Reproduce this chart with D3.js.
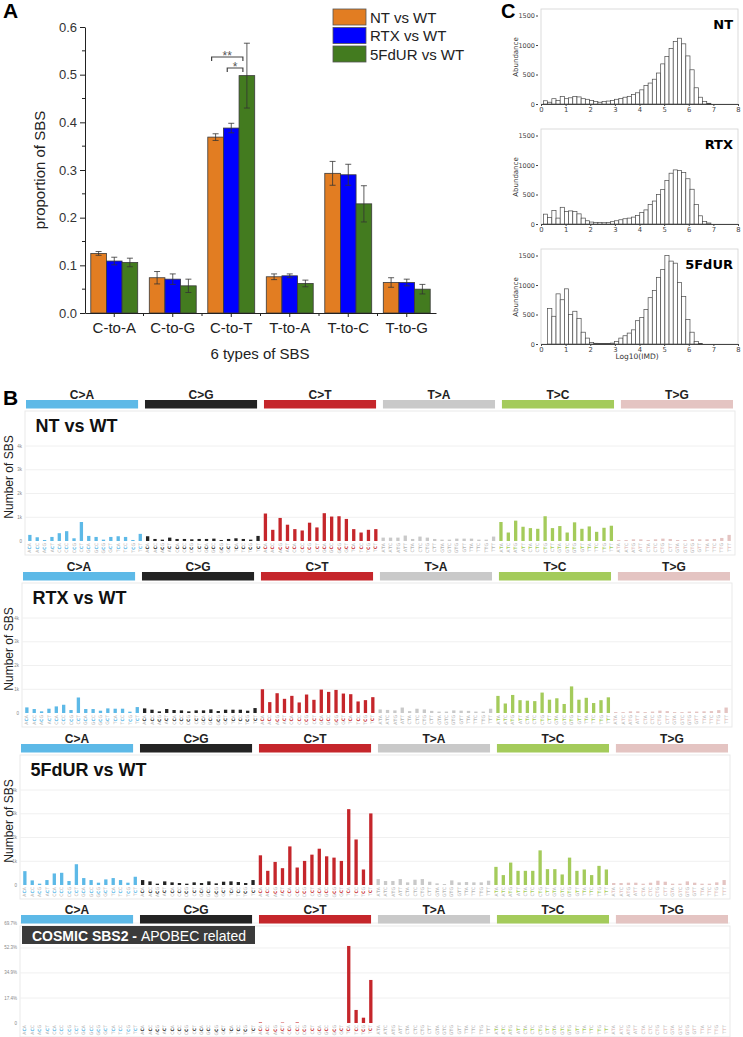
<!DOCTYPE html>
<html>
<head>
<meta charset="utf-8">
<script src="https://cdn.jsdelivr.net/npm/d3@7"></script>
<style>
  body { margin: 0; background: #fff; }
  svg { display: block; font-family: "Liberation Sans", Arial, sans-serif; }
</style>
</head>
<body>
<svg id="main-svg" width="743" height="1037"></svg>
<script>
// ---- panel A data
const sbsTypes = ["C-to-A", "C-to-G", "C-to-T", "T-to-A", "T-to-C", "T-to-G"];
const seriesNames = ["NT vs WT", "RTX vs WT", "5FdUR vs WT"];
const seriesColors = ["#E27D22", "#0000FF", "#437B1F"];
const ntProportion = [0.125, 0.074, 0.369, 0.076, 0.293, 0.064];
const ntError = [0.004, 0.013, 0.007, 0.006, 0.025, 0.010];
const rtxProportion = [0.109, 0.071, 0.388, 0.078, 0.290, 0.064];
const rtxError = [0.008, 0.011, 0.010, 0.004, 0.022, 0.007];
const fdurProportion = [0.106, 0.057, 0.498, 0.062, 0.229, 0.050];
const fdurError = [0.009, 0.014, 0.068, 0.007, 0.038, 0.010];
const proportionTicks = [0, 0.1, 0.2, 0.3, 0.4, 0.5, 0.6];

// ---- panel C data (abundance per log10(IMD) bin)
const imdTicks = [0, 1, 2, 3, 4, 5, 6, 7, 8];
const abundanceTicks = [0, 500, 1000, 1500];
const imdEdges = d3.range(41).map(i => 0.1 + i * 0.17);
const ntImd = [55, 30, 90, 60, 125, 90, 105, 125, 120, 90, 80, 60, 40, 30, 40, 50, 60, 80, 95, 115,
  130, 160, 190, 240, 315, 355, 420, 525, 680, 805, 940, 1060, 1115, 1020, 815, 580, 275, 115, 45, 12];
const rtxImd = [167, 110, 228, 100, 283, 210, 222, 210, 172, 100, 55, 33, 28, 28, 22, 28, 39, 55, 72, 89,
  100, 117, 144, 194, 239, 333, 389, 500, 583, 739, 861, 917, 906, 872, 767, 589, 333, 139, 44, 17];
const fdurImd = [0, 600, 470, 850, 750, 935, 500, 555, 435, 200, 100, 28, 12, 8, 8, 10, 15, 40, 100, 140,
  185, 240, 395, 450, 585, 785, 905, 1130, 1265, 1500, 1405, 1370, 1045, 805, 415, 200, 45, 10, 0, 0];

// ---- panel B data (96 trinucleotide contexts)
const mutationTypes = ["C>A", "C>G", "C>T", "T>A", "T>C", "T>G"];
const mutationColors = ["#5DB9E7", "#232323", "#C5262B", "#C9C9C9", "#A4CB5B", "#E4C4C2"];
const flankBases = ["A", "C", "G", "T"];
const countTicks = [0, 1000, 2000, 3000, 4000];
const countTickLabels = ["0", "1k", "2k", "3k", "4k"];
const sbs2Ticks = [0, 0.174, 0.349, 0.523, 0.697];
const sbs2TickLabels = ["0", "17.4%", "34.9%", "52.3%", "69.7%"];

const ntSbs = [
  257, 157, 43, 171, 329, 414, 114, 800, 214, 171, 57, 171, 200, 171, 43, 300,
  200, 86, 57, 143, 86, 86, 71, 86, 86, 100, 43, 86, 114, 86, 57, 214,
  1157, 471, 971, 686, 500, 443, 771, 571, 1171, 1029, 1043, 929, 500, 357, 471, 500,
  143, 143, 143, 229, 86, 186, 143, 86, 57, 57, 100, 100, 100, 57, 57, 186,
  800, 357, 857, 600, 543, 514, 1043, 543, 629, 357, 786, 514, 614, 386, 557, 643,
  43, 43, 71, 71, 43, 71, 100, 86, 43, 43, 71, 71, 71, 86, 129, 257];
const rtxSbs = [
  236, 167, 69, 181, 278, 347, 125, 653, 167, 167, 97, 194, 181, 181, 56, 250,
  194, 139, 69, 167, 125, 111, 69, 111, 111, 153, 83, 139, 139, 139, 97, 208,
  1000, 458, 833, 597, 722, 444, 778, 556, 986, 889, 972, 819, 792, 486, 542, 667,
  150, 130, 110, 230, 80, 180, 150, 90, 60, 60, 110, 100, 90, 60, 60, 180,
  720, 400, 760, 540, 520, 500, 860, 560, 620, 380, 1120, 560, 640, 420, 540, 660,
  40, 40, 70, 70, 40, 60, 100, 80, 40, 40, 60, 60, 70, 80, 120, 230];
const fdurSbs = [
  583, 194, 56, 208, 486, 514, 167, 875, 292, 208, 97, 236, 292, 208, 97, 347,
  208, 153, 56, 153, 111, 83, 56, 111, 83, 153, 69, 139, 153, 125, 83, 208,
  1250, 597, 972, 708, 1625, 736, 1014, 1278, 1528, 1208, 1153, 1014, 3194, 1917, 653, 3014,
  250, 167, 167, 250, 111, 222, 250, 139, 69, 42, 194, 111, 125, 111, 111, 181,
  764, 417, 944, 597, 597, 597, 1458, 667, 667, 444, 1153, 597, 653, 417, 806, 653,
  83, 83, 97, 97, 56, 97, 181, 139, 56, 56, 153, 97, 56, 56, 111, 208];
const cosmicSbs2 = [
  0, 0, 0, 0, 0, 0, 0, 0, 0, 0, 0, 0, 0, 0, 0, 0,
  0, 0, 0, 0, 0, 0, 0, 0, 0, 0, 0, 0, 0, 0, 0, 0,
  0.004, 0, 0, 0.003, 0, 0.004, 0, 0, 0, 0, 0, 0, 0.537, 0.091, 0.037, 0.300,
  0, 0, 0, 0, 0, 0, 0, 0, 0, 0, 0, 0, 0, 0, 0, 0,
  0, 0, 0, 0, 0, 0, 0, 0, 0, 0, 0, 0, 0, 0, 0, 0,
  0, 0, 0, 0, 0, 0, 0, 0, 0, 0, 0, 0, 0, 0, 0, 0];

const contexts = mutationTypes.flatMap(t => flankBases.flatMap(a => flankBases.map(b => a + t[0] + b)));

const svg = d3.select("#main-svg");
const FONT = "Liberation Sans, Arial, sans-serif";
const DEJAVU = "DejaVu Sans, sans-serif";

// ================= A =================
svg.append("text").attr("x", 3).attr("y", 18).attr("font-size", 21).attr("font-weight", "bold").text("A");

const ax = d3.scaleBand().domain(sbsTypes).range([85, 436]);
const inner = d3.scaleBand().domain(seriesNames).range([0, ax.bandwidth()]).paddingOuter(0.37);
const ay = d3.scaleLinear().domain([0, 0.6]).range([313, 27]);
const gA = svg.append("g");
const propSeries = [ntProportion, rtxProportion, fdurProportion];
const errSeries = [ntError, rtxError, fdurError];

seriesNames.forEach((s, k) => {
  gA.selectAll(null).data(sbsTypes).enter().append("rect")
    .attr("x", d => ax(d) + inner(s))
    .attr("y", (d, i) => ay(propSeries[k][i]))
    .attr("width", inner.bandwidth())
    .attr("height", (d, i) => ay(0) - ay(propSeries[k][i]))
    .attr("fill", seriesColors[k])
    .attr("stroke", "#3a3a3a").attr("stroke-width", 0.8);
  const cx = d => ax(d) + inner(s) + inner.bandwidth() / 2;
  const eb = gA.selectAll(null).data(sbsTypes).enter().append("g")
    .attr("stroke", "#333").attr("stroke-width", 0.8);
  eb.append("line").attr("x1", cx).attr("x2", cx)
    .attr("y1", (d, i) => ay(propSeries[k][i] + errSeries[k][i]))
    .attr("y2", (d, i) => ay(propSeries[k][i] - errSeries[k][i]));
  [1, -1].forEach(sg => {
    eb.append("line").attr("x1", d => cx(d) - 3).attr("x2", d => cx(d) + 3)
      .attr("y1", (d, i) => ay(propSeries[k][i] + sg * errSeries[k][i]))
      .attr("y2", (d, i) => ay(propSeries[k][i] + sg * errSeries[k][i]));
  });
});

const yAxisA = gA.append("g").attr("transform", "translate(85,0)")
  .call(d3.axisLeft(ay).tickValues(proportionTicks).tickFormat(d3.format(".1f")).tickSize(5).tickSizeOuter(0));
yAxisA.attr("font-family", FONT).attr("font-size", 13).attr("color", "#222");
yAxisA.selectAll("text").attr("fill", "#333");
gA.selectAll(null).data(d3.range(0.05, 0.6, 0.1)).enter().append("line")
  .attr("x1", 82).attr("x2", 85).attr("y1", d => ay(d)).attr("y2", d => ay(d)).attr("stroke", "#222");

const xAxisA = gA.append("g").attr("transform", "translate(0,313)")
  .call(d3.axisBottom(ax).tickSize(4).tickSizeOuter(0).tickPadding(5));
xAxisA.attr("font-family", FONT).attr("font-size", 15).attr("color", "#222");
gA.selectAll(null).data(sbsTypes.slice(1)).enter().append("line")
  .attr("x1", d => ax(d)).attr("x2", d => ax(d)).attr("y1", 313).attr("y2", 316).attr("stroke", "#222");

gA.append("text").attr("x", 260).attr("y", 359).attr("text-anchor", "middle").attr("font-size", 15).attr("fill", "#222")
  .text("6 types of SBS");
gA.append("text").attr("transform", "translate(45,170) rotate(-90)").attr("text-anchor", "middle")
  .attr("font-size", 15).attr("fill", "#222").text("proportion of SBS");

// significance brackets
const ctO = ax("C-to-T") + inner(seriesNames[0]) + inner.bandwidth() / 2;
const ctB = ax("C-to-T") + inner(seriesNames[1]) + inner.bandwidth() / 2;
const ctG = ax("C-to-T") + inner(seriesNames[2]) + inner.bandwidth() / 2;
[[ctO - 4, ctG - 4, 57, "**"], [ctB - 4, ctG - 4, 68, "*"]].forEach(([x1, x2, yy, lab]) => {
  gA.append("path").attr("d", `M${x1},${yy + 4}V${yy}H${x2}V${yy + 4}`)
    .attr("fill", "none").attr("stroke", "#444").attr("stroke-width", 1.2);
  gA.append("text").attr("x", (x1 + x2) / 2).attr("y", yy + 3).attr("text-anchor", "middle")
    .attr("font-size", 12).attr("fill", "#555").text(lab);
});

// legend
const leg = gA.selectAll(null).data(seriesNames).enter().append("g")
  .attr("transform", (d, i) => `translate(333,${9 + i * 18.5})`);
leg.append("rect").attr("width", 33).attr("height", 16).attr("fill", (d, i) => seriesColors[i])
  .attr("stroke", "#555").attr("stroke-width", 0.8);
leg.append("text").attr("x", 37).attr("y", 13.5).attr("font-size", 15).attr("fill", "#222").text(d => d);

// ================= C =================
svg.append("text").attr("x", 501).attr("y", 18).attr("font-size", 20).attr("font-weight", "bold").text("C");
const histPanels = [
  { label: "NT", values: ntImd, base: 104 },
  { label: "RTX", values: rtxImd, base: 224 },
  { label: "5FdUR", values: fdurImd, base: 344 }
];
const hx = d3.scaleLinear().domain([0, 8]).range([541, 738]);
histPanels.forEach(p => {
  const hy = d3.scaleLinear().domain([0, 1500]).range([p.base, p.base - 88.5]);
  const g = svg.append("g");
  g.append("rect").attr("x", hx(0)).attr("y", p.base - 95).attr("width", hx(8) - hx(0)).attr("height", 95)
    .attr("fill", "none").attr("stroke", "#d2d2d2").attr("stroke-width", 0.8);
  g.selectAll(null).data(p.values).enter().append("rect")
    .attr("x", (d, i) => hx(imdEdges[i]))
    .attr("width", (d, i) => hx(imdEdges[i + 1]) - hx(imdEdges[i]))
    .attr("y", d => hy(d)).attr("height", d => p.base - hy(d))
    .attr("fill", "#fff").attr("stroke", "#4a4a4a").attr("stroke-width", 0.7);
  const xa = g.append("g").attr("transform", `translate(0,${p.base})`)
    .call(d3.axisBottom(hx).tickValues(imdTicks).tickSize(2).tickSizeOuter(0).tickPadding(1));
  xa.attr("font-family", DEJAVU).attr("font-size", 6.8).attr("color", "#444");
  const ya = g.append("g").attr("transform", `translate(538,0)`)
    .call(d3.axisLeft(hy).tickValues(abundanceTicks).tickFormat(d3.format("d")).tickSize(2).tickPadding(1));
  ya.attr("font-family", DEJAVU).attr("font-size", 6.5).attr("color", "#444");
  ya.select(".domain").remove();
  g.append("text").attr("transform", `translate(518,${p.base - 47}) rotate(-90)`).attr("text-anchor", "middle")
    .attr("font-family", DEJAVU).attr("font-size", 7).attr("fill", "#333").text("Abundance");
  g.append("text").attr("x", 733).attr("y", p.base - 75.5).attr("text-anchor", "end")
    .attr("font-family", DEJAVU).attr("font-size", 13).attr("font-weight", "bold").text(p.label);
});
svg.append("text").attr("x", 637).attr("y", 359).attr("text-anchor", "middle")
  .attr("font-family", DEJAVU).attr("font-size", 7.5).attr("fill", "#333").text("Log10(IMD)");

// ================= B =================
svg.append("text").attr("x", 3).attr("y", 405).attr("font-size", 21).attr("font-weight", "bold").text("B");

const sbsPanels = [
  { title: "NT vs WT", values: ntSbs, left: 26, stripTop: 400, base: 541, domain: [0, 4000], span: 95, ticks: countTicks, tickLabels: countTickLabels },
  { title: "RTX vs WT", values: rtxSbs, left: 23, stripTop: 572, base: 713, domain: [0, 4000], span: 95, ticks: countTicks, tickLabels: countTickLabels },
  { title: "5FdUR vs WT", values: fdurSbs, left: 21, stripTop: 744, base: 885, domain: [0, 4000], span: 95, ticks: countTicks, tickLabels: countTickLabels },
  { title: null, values: cosmicSbs2, left: 21, stripTop: 915, base: 1023, domain: [0, 0.697], span: 100, ticks: sbs2Ticks, tickLabels: sbs2TickLabels }
];

function drawSbsPanel(p) {
  const g = svg.append("g");
  const w = 707;
  const bx = d3.scaleBand().domain(d3.range(96)).range([p.left, p.left + w]).paddingInner(0.55).paddingOuter(0.3);
  const gx = d3.scaleBand().domain(mutationTypes).range([p.left, p.left + w]).paddingInner(0.058);
  const y = d3.scaleLinear().domain(p.domain).range([p.base, p.base - p.span]);
  const boxTop = p.stripTop + 11;

  g.append("rect").attr("x", p.left - 1).attr("y", boxTop).attr("width", w + 3).attr("height", p.base + 14 - boxTop)
    .attr("fill", "none").attr("stroke", "#e9e9e9").attr("stroke-width", 1);
  g.selectAll(null).data(p.ticks.slice(1)).enter().append("line")
    .attr("x1", p.left - 1).attr("x2", p.left + w + 2).attr("y1", d => y(d)).attr("y2", d => y(d))
    .attr("stroke", "#f0f0f0").attr("stroke-width", 1);
  g.selectAll(null).data(p.ticks).enter().append("text")
    .attr("x", p.left - 4).attr("y", d => y(d) + 1.5).attr("text-anchor", "end")
    .attr("font-size", 4.5).attr("fill", "#888").text((d, i) => p.tickLabels[i]);

  // header strips
  g.selectAll(null).data(mutationTypes).enter().append("rect")
    .attr("x", d => gx(d)).attr("y", p.stripTop).attr("width", gx.bandwidth()).attr("height", 8.5)
    .attr("fill", (d, i) => mutationColors[i]);
  g.selectAll(null).data(mutationTypes).enter().append("text")
    .attr("x", d => gx(d) + gx.bandwidth() / 2).attr("y", p.stripTop - 1).attr("text-anchor", "middle")
    .attr("font-size", 12).attr("font-weight", "bold").attr("fill", "#222").text(d => d);

  // bars
  g.selectAll(null).data(p.values).enter().append("rect")
    .attr("x", (d, i) => bx(i)).attr("width", bx.bandwidth())
    .attr("y", d => y(d)).attr("height", d => p.base - y(d))
    .attr("fill", (d, i) => mutationColors[Math.floor(i / 16)]);

  // context labels
  const lab = g.selectAll(null).data(contexts).enter().append("text")
    .attr("transform", (d, i) => `translate(${bx(i) + bx.bandwidth() / 2 + 1.6},${p.base + 2}) rotate(-90)`)
    .attr("text-anchor", "end").attr("font-size", 4.6).attr("font-family", DEJAVU);
  lab.append("tspan").attr("fill", "#aaa").text(d => d[0]);
  lab.append("tspan").attr("fill", (d, i) => i >= 48 && i < 64 ? "#b5b5b5" : mutationColors[Math.floor(i / 16)])
    .attr("font-weight", "bold").text(d => d[1]);
  lab.append("tspan").attr("fill", "#aaa").text(d => d[2]);

  if (p.title) {
    g.append("text").attr("x", p.left + 9.5).attr("y", p.stripTop + 32).attr("font-size", 18)
      .attr("font-weight", "bold").attr("fill", "#111").text(p.title);
    g.append("text").attr("transform", `translate(13,${p.base - 64}) rotate(-90)`).attr("text-anchor", "middle")
      .attr("font-size", 12).attr("fill", "#222").text("Number of SBS");
  } else {
    g.append("rect").attr("x", p.left + 1).attr("y", boxTop).attr("width", 233).attr("height", 18).attr("fill", "#3b3b3b");
    const t = g.append("text").attr("x", p.left + 11).attr("y", boxTop + 14.5).attr("font-size", 14).attr("fill", "#fff");
    t.append("tspan").attr("font-weight", "bold").text("COSMIC SBS2 - ");
    t.append("tspan").text("APOBEC related");
  }
}
sbsPanels.forEach(drawSbsPanel);
</script>
</body>
</html>
